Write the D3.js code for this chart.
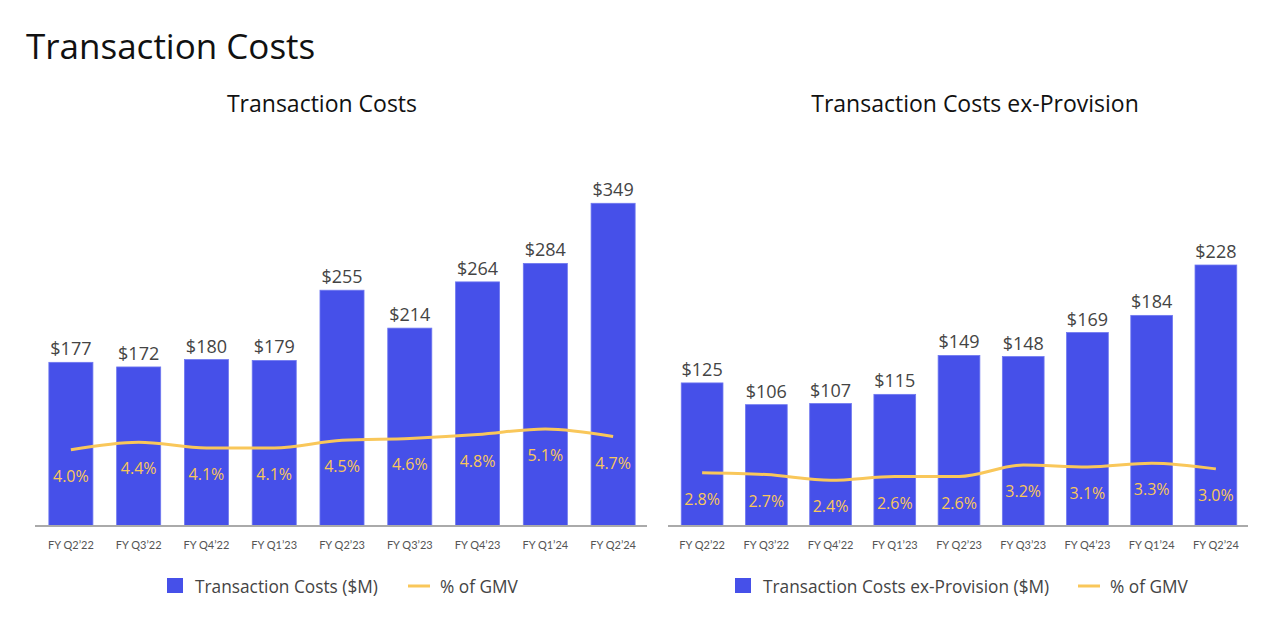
<!DOCTYPE html>
<html><head><meta charset="utf-8">
<script src="https://cdn.jsdelivr.net/npm/d3@7"></script>
<style>
html,body{margin:0;padding:0;background:#fff;}
svg{display:block;font-family:"Open Sans",sans-serif;}
</style></head>
<body>
<svg id="c" width="1280" height="623"></svg>
<script>
const categories = ["FY Q2’22","FY Q3’22","FY Q4’22","FY Q1’23","FY Q2’23","FY Q3’23","FY Q4’23","FY Q1’24","FY Q2’24"];
const tcValues = [177,172,180,179,255,214,264,284,349];
const tcPct = [4.0,4.4,4.1,4.1,4.5,4.6,4.8,5.1,4.7];
const exValues = [125,106,107,115,149,148,169,184,228];
const exPct = [2.8,2.7,2.4,2.6,2.6,3.2,3.1,3.3,3.0];
const pageTitle = "Transaction Costs";
const chartTitles = ["Transaction Costs","Transaction Costs ex-Provision"];
const barLegend = ["Transaction Costs ($M)","Transaction Costs ex-Provision ($M)"];
const lineLegend = "% of GMV";

const BAR = "#4650E9", LINE = "#F9C75A", TXT = "#444";
const svg = d3.select("#c");

svg.append("text").attr("x",26).attr("y",59).attr("font-size",35).attr("fill","#111").text(pageTitle);

function chart(opt){
  const g = svg.append("g");
  const base = 526, top = 170;
  const x = d3.scaleBand().domain(categories).range([opt.x0,opt.x1]).paddingInner(0.35).paddingOuter(0.175);
  const y = d3.scaleLinear().domain([0,opt.yMax]).range([base,top]);
  const p = d3.scaleLinear().domain([0,18.7]).range([base,top]);

  g.append("text").attr("x",opt.tx).attr("y",112).attr("text-anchor","middle")
    .attr("font-size",23).attr("fill","#111").text(opt.title);

  g.selectAll("rect.bar").data(opt.values).join("rect").attr("class","bar")
    .attr("x",(d,i)=>x(categories[i])).attr("width",x.bandwidth())
    .attr("y",d=>y(d)).attr("height",d=>base-y(d))
    .attr("fill",BAR).attr("stroke","#6f78f0").attr("stroke-width",0.8);

  g.selectAll("text.val").data(opt.values).join("text").attr("class","val")
    .attr("x",(d,i)=>x(categories[i])+x.bandwidth()/2).attr("y",d=>y(d)-7)
    .attr("text-anchor","middle").attr("font-size",18).attr("fill",TXT).text(d=>"$"+d);

  const ax = d3.axisBottom(x).tickSize(0).tickPadding(15);
  const axg = g.append("g").attr("transform",`translate(0,${base})`).call(ax);
  axg.select(".domain").attr("stroke","#aaa").attr("stroke-width",2)
    .attr("d",`M${opt.x0-2},0H${opt.x1}`);
  axg.selectAll("text").attr("font-size",11).attr("fill","#555").attr("font-family","Lato,sans-serif");

  const line = d3.line().x((d,i)=>x(categories[i])+x.bandwidth()/2).y(d=>p(d)).curve(d3.curveMonotoneX);
  g.append("path").datum(opt.pct).attr("d",line).attr("fill","none").attr("stroke",LINE).attr("stroke-width",3);

  g.selectAll("text.pct").data(opt.pct).join("text").attr("class","pct")
    .attr("x",(d,i)=>x(categories[i])+x.bandwidth()/2).attr("y",d=>p(d)+32)
    .attr("text-anchor","middle").attr("font-size",16).attr("fill",LINE).text(d=>d.toFixed(1)+"%");

  const lg = g.append("g").attr("transform",`translate(${opt.lx},0)`);
  lg.append("rect").attr("x",0).attr("y",578).attr("width",16).attr("height",15).attr("fill",BAR);
  lg.append("text").attr("x",28).attr("y",593).attr("font-size",17.3).attr("fill",TXT).text(opt.blabel);
  lg.append("line").attr("x1",opt.lineX).attr("x2",opt.lineX+22).attr("y1",586).attr("y2",586)
    .attr("stroke",LINE).attr("stroke-width",3);
  lg.append("text").attr("x",opt.lineX+32).attr("y",593).attr("font-size",17.3).attr("fill",TXT).text(lineLegend);
}

chart({x0:37,x1:647,yMax:385,values:tcValues,pct:tcPct,title:chartTitles[0],tx:322,blabel:barLegend[0],lx:167,lineX:241});
chart({x0:670,x1:1248,yMax:311,values:exValues,pct:exPct,title:chartTitles[1],tx:975,blabel:barLegend[1],lx:735,lineX:343});
</script>
</body></html>
